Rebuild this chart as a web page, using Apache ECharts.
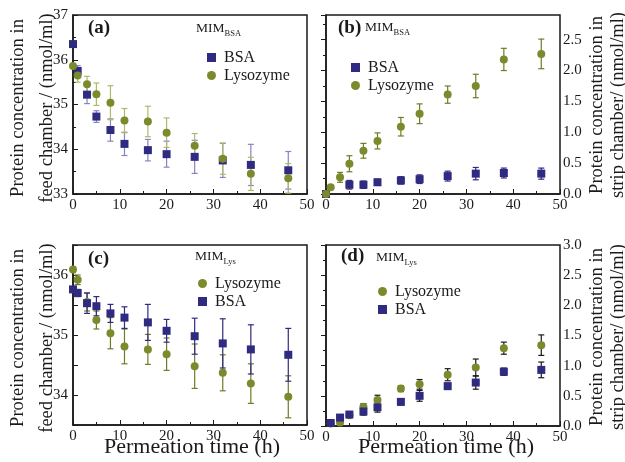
<!DOCTYPE html>
<html>
<head>
<meta charset="utf-8">
<script src="https://cdn.jsdelivr.net/npm/echarts@6/dist/echarts.min.js"></script>
<style>
  html, body { margin: 0; padding: 0; background: #fff; }
  #chart { width: 625px; height: 462px; }
</style>
</head>
<body>
<div id="chart"></div>
<script>
/* === Data === */
const timeFull = [0, 1, 3, 5, 8, 11, 16, 20, 26, 32, 38, 46];
const timeBsaB = [0, 5, 8, 11, 16, 20, 26, 32, 38, 46];
const timeD = [1, 3, 5, 8, 11, 16, 20, 26, 32, 38, 46];

// (a) MIM_BSA, feed chamber
const bsaFeedA = [36.35, 35.75, 35.22, 34.73, 34.43, 34.12, 33.98, 33.89, 33.83, 33.75, 33.65, 33.53];
const bsaFeedAErr = [0.05, 0.12, 0.2, 0.13, 0.25, 0.26, 0.24, 0.29, 0.37, 0.38, 0.46, 0.42];
const lysFeedA = [35.86, 35.65, 35.45, 35.23, 35.04, 34.64, 34.62, 34.37, 34.08, 33.79, 33.45, 33.35];
const lysFeedAErr = [0.05, 0.15, 0.18, 0.25, 0.38, 0.27, 0.34, 0.33, 0.27, 0.35, 0.37, 0.33];

// (b) MIM_BSA, strip chamber
const lysStripB = [0, 0.11, 0.27, 0.49, 0.70, 0.86, 1.09, 1.30, 1.61, 1.75, 2.18, 2.27];
const lysStripBErr = [0, 0.03, 0.08, 0.13, 0.12, 0.13, 0.15, 0.16, 0.14, 0.19, 0.18, 0.24];
const bsaStripB = [0, 0.15, 0.15, 0.19, 0.22, 0.24, 0.29, 0.33, 0.34, 0.33];
const bsaStripBErr = [0, 0.07, 0.06, 0.05, 0.06, 0.07, 0.08, 0.1, 0.08, 0.09];

// (c) MIM_Lys, feed chamber
const lysFeedC = [36.09, 35.92, 35.55, 35.25, 35.03, 34.81, 34.76, 34.68, 34.48, 34.37, 34.19, 33.97];
const lysFeedCErr = [0.05, 0.08, 0.15, 0.15, 0.26, 0.29, 0.25, 0.27, 0.37, 0.3, 0.33, 0.35];
const bsaFeedC = [35.76, 35.70, 35.53, 35.48, 35.36, 35.29, 35.21, 35.07, 34.98, 34.86, 34.76, 34.67];
const bsaFeedCErr = [0.05, 0.06, 0.17, 0.16, 0.15, 0.18, 0.3, 0.19, 0.3, 0.41, 0.41, 0.44];

// (d) MIM_Lys, strip chamber
const lysStripD = [0.04, 0.06, 0.18, 0.32, 0.43, 0.62, 0.69, 0.85, 0.97, 1.29, 1.34];
const lysStripDErr = [0.02, 0.03, 0.03, 0.05, 0.08, 0.05, 0.08, 0.1, 0.14, 0.1, 0.17];
const bsaStripD = [0.05, 0.14, 0.19, 0.24, 0.31, 0.40, 0.50, 0.66, 0.72, 0.90, 0.93];
const bsaStripDErr = [0.03, 0.04, 0.04, 0.06, 0.08, 0.05, 0.09, 0.05, 0.11, 0.06, 0.13];

/* === Style === */
const BSA_COLOR = '#2F2B80';
const LYS_COLOR = '#7C8A2E';
const FONT = "'Liberation Serif', 'DejaVu Serif', serif";
const INK = '#1a1a1a';

const GRIDS = [
  { left: 73, top: 15, width: 234, height: 179 },
  { left: 326, top: 15, width: 234, height: 179 },
  { left: 73, top: 245, width: 234, height: 180 },
  { left: 326, top: 245, width: 234, height: 181 }
];

function isStep(v, step) {
  const r = v / step;
  return Math.abs(r - Math.round(r)) < 1e-6;
}

function xAxisFor(i) {
  return {
    type: 'value', gridIndex: i, min: 0, max: 50, interval: 10,
    axisLine: { show: true, lineStyle: { color: INK, width: 1.5 } },
    axisTick: { inside: true, length: 5, lineStyle: { color: INK } },
    minorTick: { show: true, splitNumber: 2, length: 3, lineStyle: { color: INK } },
    splitLine: { show: false },
    axisLabel: { color: INK, fontSize: 15, fontFamily: FONT, margin: 4 }
  };
}

function yAxisFor(i, opts) {
  return Object.assign({
    type: 'value', gridIndex: i,
    axisLine: { show: true, lineStyle: { color: INK, width: 1.5 } },
    axisTick: { inside: true, length: 5, lineStyle: { color: INK } },
    splitLine: { show: false }
  }, opts);
}

function scatter(name, idx, times, vals, symbol, color, size) {
  return {
    name, type: 'scatter', xAxisIndex: idx, yAxisIndex: idx,
    symbol, symbolSize: size || 8, z: 4,
    itemStyle: { color, opacity: 1 },
    data: times.map((t, i) => [t, vals[i]])
  };
}

function errorBars(idx, times, vals, errs, color) {
  return {
    type: 'custom', xAxisIndex: idx, yAxisIndex: idx, clip: true, z: 3,
    silent: true,
    data: times.map((t, i) => [t, vals[i] - errs[i], vals[i] + errs[i]]),
    renderItem: (params, api) => {
      const lo = api.coord([api.value(0), api.value(1)]);
      const hi = api.coord([api.value(0), api.value(2)]);
      const w = 3;
      const st = { stroke: color, lineWidth: 1.2 };
      return {
        type: 'group',
        children: [
          { type: 'line', shape: { x1: lo[0], y1: lo[1], x2: hi[0], y2: hi[1] }, style: st },
          { type: 'line', shape: { x1: lo[0] - w, y1: lo[1], x2: lo[0] + w, y2: lo[1] }, style: st },
          { type: 'line', shape: { x1: hi[0] - w, y1: hi[1], x2: hi[0] + w, y2: hi[1] }, style: st }
        ]
      };
    }
  };
}

function legendFor(left, top, names) {
  return {
    left, top, orient: 'vertical',
    itemWidth: 9, itemHeight: 9, itemGap: 1,
    selectedMode: false,
    textStyle: { fontFamily: FONT, fontSize: 16, color: INK, lineHeight: 17, padding: [0, 0, 0, 3] },
    data: names.map(n => ({ name: n, icon: n === 'BSA' ? 'rect' : 'circle' }))
  };
}

function txt(x, y, text, size, opts) {
  return {
    type: 'text', x, y, silent: true,
    rotation: (opts && opts.rot) || 0,
    style: Object.assign({
      text, fontFamily: FONT, fontSize: size, fill: INK,
      textAlign: 'left', textVerticalAlign: 'middle'
    }, (opts && opts.style) || {})
  };
}

function vtitle(x, y, text) {
  return txt(x, y, text, 18.5, { rot: Math.PI / 2, style: { textAlign: 'center' } });
}

// "MIM" with a subscript tag
function mim(x, y, sub) {
  return [txt(x, y, 'MIM', 13.5), txt(x + 28.5, y + 6, sub, 8.5)];
}

const chart = echarts.init(document.getElementById('chart'));

chart.setOption({
  backgroundColor: '#fff',
  animation: false,
  grid: GRIDS.map(g => Object.assign({ show: true, borderColor: INK, borderWidth: 1.5, backgroundColor: 'transparent' }, g)),
  xAxis: [0, 1, 2, 3].map(xAxisFor),
  yAxis: [
    yAxisFor(0, {
      min: 33, max: 37, interval: 1,
      minorTick: { show: true, splitNumber: 2, length: 3, lineStyle: { color: INK } },
      axisLabel: { color: INK, fontSize: 15, fontFamily: FONT, margin: 5 }
    }),
    yAxisFor(1, {
      position: 'right', min: 0, max: 2.9, interval: 0.5,
      minorTick: { show: true, splitNumber: 2, length: 3, lineStyle: { color: INK } },
      axisLabel: {
        color: INK, fontSize: 15, fontFamily: FONT, margin: 3,
        formatter: v => (isStep(v, 0.5) ? v.toFixed(1) : '')
      }
    }),
    yAxisFor(2, {
      min: 33.5, max: 36.5, interval: 0.5,
      axisLabel: {
        color: INK, fontSize: 15, fontFamily: FONT, margin: 5,
        formatter: v => (isStep(v, 1) ? String(Math.round(v)) : '')
      }
    }),
    yAxisFor(3, {
      position: 'right', min: 0, max: 3, interval: 0.5,
      minorTick: { show: true, splitNumber: 2, length: 3, lineStyle: { color: INK } },
      axisLabel: {
        color: INK, fontSize: 15, fontFamily: FONT, margin: 3,
        formatter: v => v.toFixed(1)
      }
    })
  ],
  legend: [
    legendFor(202, 44, ['BSA', 'Lysozyme']),
    legendFor(346, 54, ['BSA', 'Lysozyme']),
    legendFor(193, 270, ['Lysozyme', 'BSA']),
    legendFor(373, 278, ['Lysozyme', 'BSA'])
  ],
  series: [
    // (a)
    errorBars(0, timeFull, bsaFeedA, bsaFeedAErr, '#8784C4'),
    errorBars(0, timeFull, lysFeedA, lysFeedAErr, '#B1B86A'),
    scatter('BSA', 0, timeFull, bsaFeedA, 'rect', BSA_COLOR),
    scatter('Lysozyme', 0, timeFull, lysFeedA, 'circle', LYS_COLOR),
    // (b)
    errorBars(1, timeFull, lysStripB, lysStripBErr, '#6E7C24'),
    errorBars(1, timeBsaB, bsaStripB, bsaStripBErr, BSA_COLOR),
    scatter('BSA', 1, timeBsaB, bsaStripB, 'rect', BSA_COLOR),
    scatter('Lysozyme', 1, timeFull, lysStripB, 'circle', LYS_COLOR),
    // (c)
    errorBars(2, timeFull, lysFeedC, lysFeedCErr, '#6E7C24'),
    errorBars(2, timeFull, bsaFeedC, bsaFeedCErr, BSA_COLOR),
    scatter('Lysozyme', 2, timeFull, lysFeedC, 'circle', LYS_COLOR),
    scatter('BSA', 2, timeFull, bsaFeedC, 'rect', BSA_COLOR),
    // (d)
    errorBars(3, timeD, lysStripD, lysStripDErr, INK),
    errorBars(3, timeD, bsaStripD, bsaStripDErr, INK),
    scatter('Lysozyme', 3, timeD, lysStripD, 'circle', LYS_COLOR),
    scatter('BSA', 3, timeD, bsaStripD, 'rect', BSA_COLOR)
  ],
  graphic: [
    // panel letters
    txt(88, 28, '(a)', 19, { style: { fontWeight: 'bold' } }),
    txt(338, 28, '(b)', 19, { style: { fontWeight: 'bold' } }),
    txt(88, 259, '(c)', 19, { style: { fontWeight: 'bold' } }),
    txt(341, 256, '(d)', 19, { style: { fontWeight: 'bold' } }),
    // MIM labels with subscripts
    ...mim(196, 28, 'BSA'),
    ...mim(365, 27, 'BSA'),
    ...mim(195, 256, 'Lys'),
    ...mim(376, 257, 'Lys'),
    // y titles
    vtitle(18, 108, 'Protein concentration in'),
    vtitle(47, 108, 'feed chamber / (nmol/ml)'),
    vtitle(18, 338, 'Protein concentration in'),
    vtitle(47, 338, 'feed chamber / (nmol/ml)'),
    vtitle(597, 105, 'Protein concentration in'),
    vtitle(618, 105, 'strip chamber/ (nmol/ml)'),
    vtitle(597, 337, 'Protein concentration in'),
    vtitle(618, 337, 'strip chamber/ (nmol/ml)'),
    // x titles
    txt(192, 447, 'Permeation time (h)', 22, { style: { textAlign: 'center' } }),
    txt(446, 447, 'Permeation time (h)', 22, { style: { textAlign: 'center' } })
  ]
});

window.addEventListener('resize', () => chart.resize());
</script>
</body>
</html>
